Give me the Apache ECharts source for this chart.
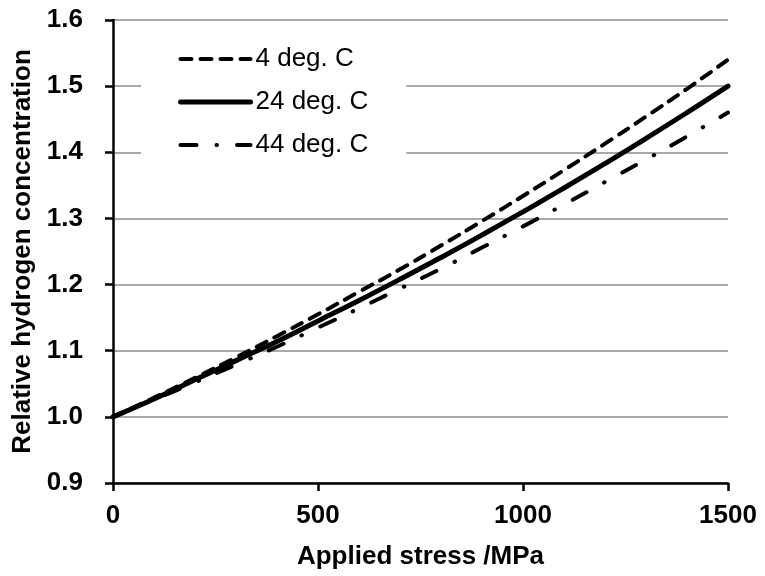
<!DOCTYPE html>
<html>
<head>
<meta charset="utf-8">
<script src="https://cdn.jsdelivr.net/npm/echarts@6/dist/echarts.min.js"></script>
<style>html,body{margin:0;padding:0;background:#fff}#c{width:765px;height:576px}</style>
</head>
<body>
<div id="c"></div>
<script>
var stress = [0, 100, 200, 300, 400, 500, 600, 700, 800, 900, 1000, 1100, 1200, 1300, 1400, 1500];
var c4  = [1.000, 1.029, 1.059, 1.090, 1.122, 1.155, 1.189, 1.223, 1.259, 1.296, 1.334, 1.373, 1.413, 1.454, 1.496, 1.540];
var c24 = [1.000, 1.027, 1.056, 1.085, 1.114, 1.145, 1.176, 1.208, 1.241, 1.275, 1.310, 1.346, 1.383, 1.421, 1.460, 1.500];
var c44 = [1.000, 1.026, 1.052, 1.079, 1.106, 1.135, 1.164, 1.194, 1.224, 1.256, 1.288, 1.321, 1.355, 1.389, 1.424, 1.460];
var seriesNames = ['4 deg. C', '24 deg. C', '44 deg. C'];
var xTicks = [0, 500, 1000, 1500];
var yTicks = [0.9, 1.0, 1.1, 1.2, 1.3, 1.4, 1.5, 1.6];

function pairs(ys) { return stress.map(function (x, i) { return [x, ys[i]]; }); }

var font = 'Liberation Sans, Arial, sans-serif';
var styles = [
  {color: '#000', width: 4, type: [11, 9], cap: 'round'},
  {color: '#000', width: 5, type: 'solid', cap: 'round'},
  {color: '#000', width: 4, type: [16, 20, 0.5, 20], cap: 'round'}
];
var chart = echarts.init(document.getElementById('c'), null, {renderer: 'canvas'});
chart.setOption({
  animation: false,
  backgroundColor: '#fff',
  grid: {left: 113, right: 37, top: 20, bottom: 93, containLabel: false},
  legend: {
    orient: 'vertical',
    left: 141, top: 28,
    backgroundColor: '#fff',
    padding: [18, 38, 12, 37],
    itemWidth: 70, itemHeight: 14, itemGap: 17,
    textStyle: {fontFamily: font, fontSize: 26, color: '#000'},
    data: seriesNames.map(function (n, i) {
      return {name: n, itemStyle: {opacity: 0}, lineStyle: styles[i]};
    })
  },
  xAxis: {
    type: 'value', min: xTicks[0], max: xTicks[xTicks.length - 1], interval: 500,
    name: 'Applied stress /MPa', nameLocation: 'middle', nameGap: 61,
    nameTextStyle: {fontFamily: font, fontSize: 26, fontWeight: 'bold', color: '#000'},
    axisLine: {show: true, onZero: false, lineStyle: {color: '#000', width: 2.5}},
    axisTick: {show: true, length: 8, lineStyle: {color: '#000', width: 2.5}},
    axisLabel: {fontFamily: font, fontSize: 26, fontWeight: 'bold', color: '#000', margin: 20,
      formatter: function (v) { return String(v); }},
    splitLine: {show: false}
  },
  yAxis: {
    type: 'value', min: yTicks[0], max: yTicks[yTicks.length - 1], interval: 0.1,
    name: 'Relative hydrogen concentration', nameLocation: 'middle', nameGap: 76, nameRotate: 90,
    nameTextStyle: {fontFamily: font, fontSize: 26, fontWeight: 'bold', color: '#000'},
    axisLine: {show: true, onZero: false, lineStyle: {color: '#000', width: 2.5}},
    axisTick: {show: true, length: 8, lineStyle: {color: '#000', width: 2.5}},
    axisLabel: {fontFamily: font, fontSize: 26, fontWeight: 'bold', color: '#000', margin: 30,
      formatter: function (v) { return v.toFixed(1); }},
    splitLine: {show: true, lineStyle: {color: '#8c8c8c', width: 1.5}}
  },
  series: seriesNames.map(function (n, i) {
    return {name: n, type: 'line', data: pairs([c4, c24, c44][i]), symbol: 'none', smooth: true,
      lineStyle: styles[i], itemStyle: {color: '#000'}, z: [2, 3, 2][i]};
  })
});
</script>
</body>
</html>
